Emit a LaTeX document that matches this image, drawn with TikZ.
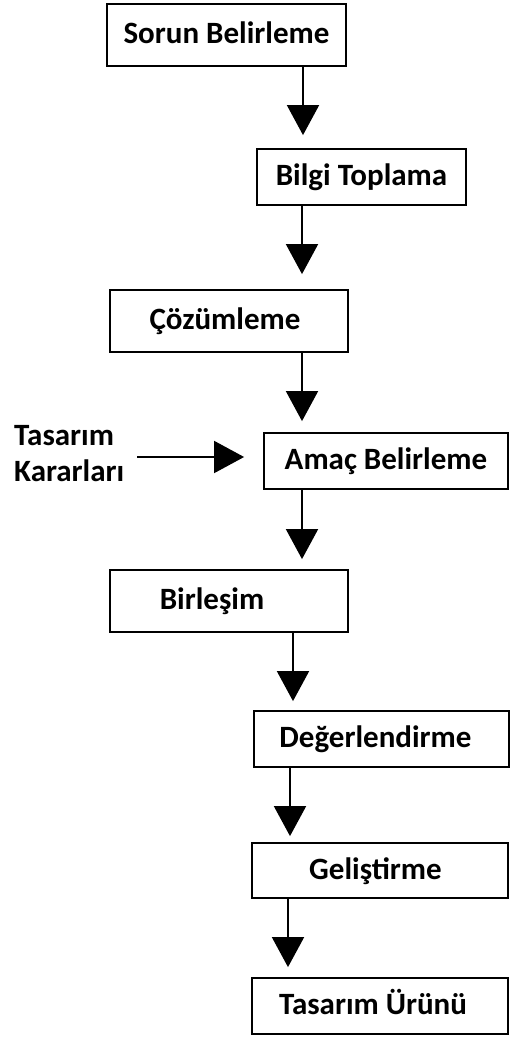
\documentclass[tikz,border=0pt]{standalone}
\usepackage{fontspec}
\setmainfont{Carlito}
\usetikzlibrary{arrows.meta}
\begin{document}
\begin{tikzpicture}[x=1pt,y=-1pt,
  box/.style={draw, line width=1.8pt, font=\bfseries\fontsize{31}{36}\selectfont,
    text height=17pt, text depth=0pt, inner sep=0pt},
  arr/.style={line width=1.8pt, -{Triangle[width=32pt,length=30pt]}},
  lbl/.style={font=\bfseries\fontsize{31}{36}\selectfont, inner sep=0pt, align=left}]
\useasboundingbox (0,0) rectangle (512,1039);
\node[box, minimum width=239pt, minimum height=62pt] (s1) at (226.5,35) {Sorun Belirleme};
\node[box, minimum width=209pt, minimum height=56pt] (s2) at (361.5,177) {Bilgi Toplama};
\node[box, minimum width=238pt, minimum height=62pt] (s3) at (229,321) {Çözümleme\hspace*{8pt}};
\node[box, minimum width=244pt, minimum height=56pt] (s4) at (386,461) {Amaç Belirleme};
\node[box, minimum width=238pt, minimum height=62pt] (s5) at (229,601) {Birleşim\hspace*{34pt}};
\node[box, minimum width=255pt, minimum height=56pt] (s6) at (381.5,739) {Değerlendirme\hspace*{12pt}};
\node[box, minimum width=256pt, minimum height=55pt] (s7) at (380,870.5) {Geliştirme\hspace*{9pt}};
\node[box, minimum width=256pt, minimum height=56pt] (s8) at (380,1006) {Tasarım Ürünü\hspace*{14pt}};
\node[lbl, anchor=west] (tk) at (14,454) {Tasarım\\Kararları};
\coordinate (x1) at (303,0);
\coordinate (x2) at (302,0);
\coordinate (x5) at (293,0);
\coordinate (x6) at (290,0);
\coordinate (x7) at (288,0);
\draw[arr, shorten >=13pt] (s1.south -| x1) -- (s2.north -| x1);
\draw[arr, shorten >=15pt] (s2.south -| x2) -- (s3.north -| x2);
\draw[arr, shorten >=11pt] (s3.south -| x2) -- (s4.north -| x2);
\draw[arr, shorten >=10pt] (s4.south -| x2) -- (s5.north -| x2);
\draw[arr, shorten >=9pt] (s5.south -| x5) -- (s6.north -| x5);
\draw[arr, shorten >=6pt] (s6.south -| x6) -- (s7.north -| x6);
\draw[arr, shorten >=10pt] (s7.south -| x7) -- (s8.north -| x7);
\coordinate (h) at (137,457);
\draw[arr, shorten >=19pt] (h) -- (h -| s4.west);
\end{tikzpicture}
\end{document}
